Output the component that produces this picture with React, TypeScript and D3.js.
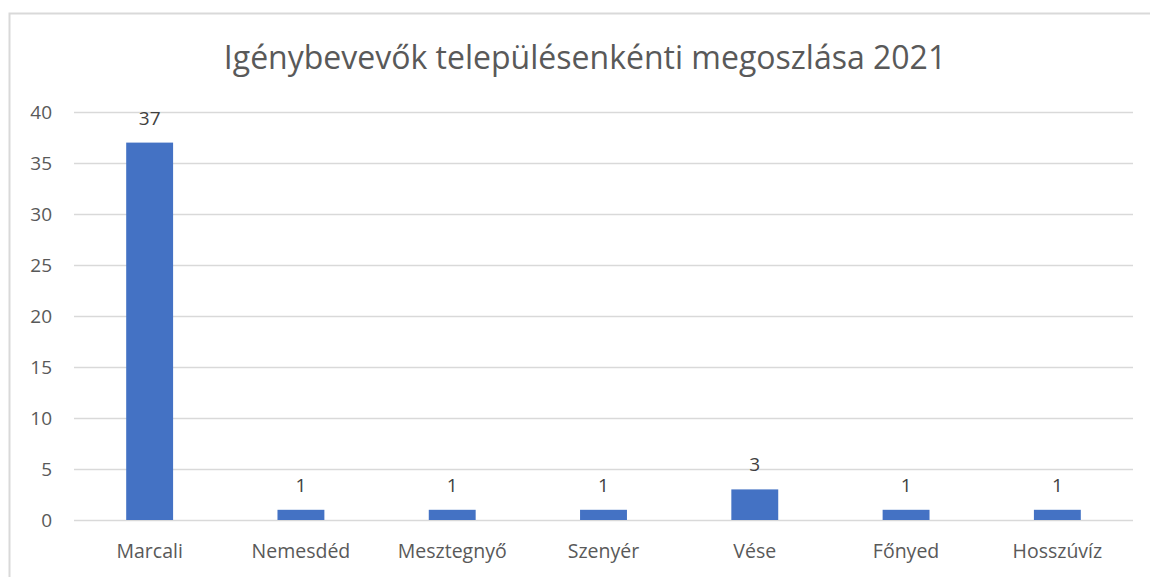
import React, { useEffect, useRef } from "react";
import * as d3 from "d3";

const towns = ["Marcali", "Nemesdéd", "Mesztegnyő", "Szenyér", "Vése", "Főnyed", "Hosszúvíz"];
const counts = [37, 1, 1, 1, 3, 1, 1];
const yTicks = [0, 5, 10, 15, 20, 25, 30, 35, 40];
const title = "Igénybevevők településenkénti megoszlása 2021";

const App = () => {
  const svgRef = useRef<SVGSVGElement>(null);

  useEffect(() => {
    const width = 1150;
    const height = 577;
    const margin = { top: 112, right: 17, bottom: 57, left: 74 };
    const font = "'Open Sans', 'Liberation Sans', sans-serif";
    const textColor = "#595959";

    const svg = d3.select(svgRef.current);
    svg.selectAll("*").remove();
    svg.attr("width", width).attr("height", height);

    // chart frame (right / bottom edges fall outside the picture)
    svg
      .append("rect")
      .attr("x", 9.5)
      .attr("y", 13.5)
      .attr("width", width + 10)
      .attr("height", height + 10)
      .attr("fill", "white")
      .attr("stroke", "#d9d9d9")
      .attr("stroke-width", 2);

    const x = d3
      .scaleBand()
      .domain(towns)
      .range([margin.left, width - margin.right])
      .paddingInner(0.69)
      .paddingOuter(0.345);

    const y = d3
      .scaleLinear()
      .domain([0, 40])
      .range([height - margin.bottom, margin.top]);

    // gridlines
    svg
      .append("g")
      .selectAll("line")
      .data(yTicks)
      .enter()
      .append("line")
      .attr("x1", margin.left)
      .attr("x2", width - margin.right)
      .attr("y1", (d) => Math.round(y(d)) + 0.5)
      .attr("y2", (d) => Math.round(y(d)) + 0.5)
      .attr("stroke", "#d9d9d9")
      .attr("stroke-width", 1.5);

    // y labels
    svg
      .append("g")
      .selectAll("text")
      .data(yTicks)
      .enter()
      .append("text")
      .attr("x", 52)
      .attr("y", (d) => y(d))
      .attr("dy", "0.36em")
      .attr("text-anchor", "end")
      .style("font-family", font)
      .style("font-size", "19px")
      .attr("fill", textColor)
      .text((d) => d);

    const data = towns.map((t, i) => ({ town: t, value: counts[i] }));

    // bars
    svg
      .append("g")
      .selectAll("rect")
      .data(data)
      .enter()
      .append("rect")
      .attr("x", (d) => x(d.town)!)
      .attr("y", (d) => y(d.value))
      .attr("width", x.bandwidth())
      .attr("height", (d) => y(0) - y(d.value))
      .attr("fill", "#4472c4");

    // value labels
    svg
      .append("g")
      .selectAll("text")
      .data(data)
      .enter()
      .append("text")
      .attr("x", (d) => x(d.town)! + x.bandwidth() / 2)
      .attr("y", (d) => y(d.value) - 18)
      .attr("text-anchor", "middle")
      .style("font-family", font)
      .style("font-size", "19px")
      .attr("fill", "#404040")
      .text((d) => d.value);

    // category labels
    svg
      .append("g")
      .selectAll("text")
      .data(towns)
      .enter()
      .append("text")
      .attr("x", (d) => x(d)! + x.bandwidth() / 2)
      .attr("y", 558)
      .attr("text-anchor", "middle")
      .style("font-family", font)
      .style("font-size", "19.5px")
      .attr("fill", textColor)
      .text((d) => d);

    // title
    svg
      .append("text")
      .attr("x", 585)
      .attr("y", 69)
      .attr("text-anchor", "middle")
      .style("font-family", font)
      .style("font-size", "32px")
      .attr("fill", textColor)
      .text(title);
  }, []);

  return (
    <svg
      ref={svgRef}
      style={{ position: "absolute", left: 0, top: 0, display: "block" }}
    ></svg>
  );
};

export default App;
